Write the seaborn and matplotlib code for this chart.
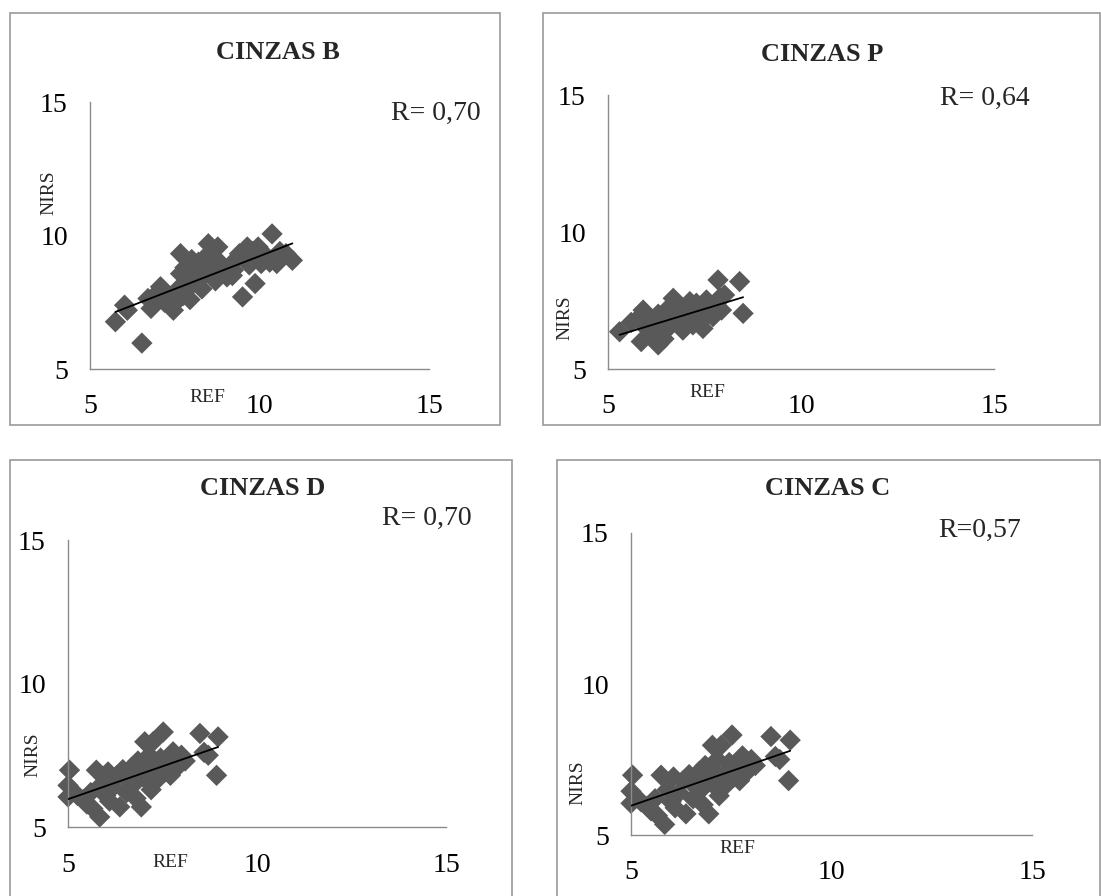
import matplotlib
matplotlib.use("Agg")
import matplotlib.pyplot as plt
from matplotlib.patches import Rectangle
import seaborn as sns

# ---- data: reference value (REF) vs. NIRS prediction for ash content ----
ref_b = [5.75, 6.02, 6.53, 6.80, 6.71, 7.08, 7.44, 7.31, 7.67, 7.67, 7.85, 8.04,
         8.22, 8.49, 8.77, 8.40, 8.59, 8.86, 9.04, 9.23, 9.41, 9.64, 9.50, 9.87,
         9.96, 10.05, 10.37, 10.23, 10.51, 10.78, 10.97,
         7.55, 7.75, 7.90, 8.10, 8.30, 8.20, 8.50, 8.60, 8.70, 8.90, 9.10, 9.30,
         9.50, 9.70, 9.80, 10.10, 10.30, 10.60, 7.95, 8.05, 7.80, 8.35, 9.20,
         6.10, 7.20, 7.60, 8.00, 7.46, 6.97]
nirs_b = [6.77, 7.39, 5.97, 7.27, 7.64, 8.08, 7.39, 7.70, 9.32, 8.57, 7.95, 8.95,
          8.33, 9.69, 9.57, 9.19, 8.57, 8.95, 8.45, 8.70, 9.32, 9.57, 7.70, 8.20,
          9.57, 8.95, 10.06, 9.19, 8.95, 9.32, 9.07,
          7.55, 7.75, 8.20, 8.60, 8.00, 9.00, 8.60, 9.10, 8.30, 8.70, 8.80, 9.10,
          9.20, 8.90, 9.40, 9.30, 9.00, 9.40, 7.60, 8.25, 8.80, 8.75, 8.50,
          7.20, 7.50, 8.00, 9.10, 7.20, 7.83]

ref_p = [5.30, 5.78, 5.91, 5.86, 6.30, 6.08, 6.69, 6.51, 7.12, 7.29, 7.46, 7.55,
         7.85, 8.02, 7.94, 8.41, 8.50, 7.72, 6.94, 7.20,
         5.60, 5.95, 6.00, 6.20, 6.30, 6.40, 6.55, 6.60, 6.75, 6.80, 6.90, 7.00,
         7.05, 7.15, 7.30, 7.35, 7.45, 7.60, 7.65, 7.80, 7.90, 6.45, 6.15, 7.00]
nirs_p = [6.36, 6.85, 7.15, 6.00, 5.88, 6.42, 7.58, 6.79, 7.46, 7.40, 6.48, 7.52,
          8.25, 7.70, 7.15, 8.19, 7.03, 6.91, 6.42, 6.61,
          6.70, 6.55, 6.95, 6.60, 7.00, 6.30, 7.20, 6.55, 6.90, 7.30, 6.70, 7.10,
          6.80, 7.20, 6.90, 7.10, 7.25, 7.00, 7.30, 7.40, 7.60, 6.10, 6.20, 6.55]

ref_d = [5.04, 5.00, 5.00, 5.25, 5.40, 5.50, 5.66, 5.84, 5.75, 6.06, 5.90, 6.00,
         6.20, 6.37, 6.30, 6.50, 6.55, 6.60, 6.70, 6.75, 6.85, 6.94, 6.90, 7.03,
         7.00, 7.10, 7.15, 7.25, 7.30, 7.40, 7.52, 7.45, 7.60, 7.71, 7.78, 7.90,
         8.00, 8.10, 8.49, 8.60, 8.71, 8.97, 8.93, 6.45, 6.10, 5.60, 6.80, 7.20, 7.55]
nirs_d = [6.98, 6.45, 6.05, 6.10, 5.95, 5.80, 5.64, 5.35, 6.98, 6.92, 6.50, 6.10,
          6.40, 5.70, 6.80, 6.90, 6.20, 6.60, 7.10, 6.50, 7.30, 5.70, 6.80, 7.97,
          7.20, 6.60, 7.50, 7.97, 7.00, 6.70, 8.31, 7.40, 7.20, 6.80, 7.62, 7.10,
          7.50, 7.30, 8.26, 7.60, 7.50, 8.14, 6.80, 7.00, 5.90, 6.20, 6.00, 6.30, 6.90]

# the C series carries the same sample values as D
ref_c = list(ref_d)
nirs_c = list(nirs_d)

titles = ["CINZAS B", "CINZAS P", "CINZAS D", "CINZAS C"]
r_labels = ["R= 0,70", "R= 0,64", "R= 0,70", "R=0,57"]
ticks = [5, 10, 15]

# ---- layout (pixel positions on a 1101 x 896 canvas) ----
W, H = 1101, 896
layout = [
    # axes box (left, right, top, bottom), title xy, R xy, NIRS xy, REF xy, frame, x pad
    dict(box=(90, 429, 102, 369), title=(278, 52), r=(436, 113), ylab=(49, 193),
         xlab=(207, 397), frame=(10, 13, 500, 425), xpad=12),
    dict(box=(608, 994, 95, 369), title=(822, 54), r=(985, 98), ylab=(565, 318),
         xlab=(707, 392), frame=(543, 13, 1100, 425), xpad=12),
    dict(box=(68, 446, 540, 827), title=(263, 488), r=(427, 518), ylab=(33, 755),
         xlab=(170, 862), frame=(10, 460, 512, 905), xpad=13),
    dict(box=(631, 1032, 533, 835), title=(828, 488), r=(980, 530), ylab=(578, 783),
         xlab=(737, 848), frame=(557, 460, 1100, 905), xpad=12),
]
data = [(ref_b, nirs_b), (ref_p, nirs_p), (ref_d, nirs_d), (ref_c, nirs_c)]

sns.set_style("white")
plt.rcParams["font.family"] = ["Liberation Serif", "DejaVu Serif"]

axis_gray = "#8a8a8a"
marker_gray = "#595959"

fig = plt.figure(figsize=(W / 100, H / 100), dpi=100)
fig.patch.set_facecolor("white")

for (xs, ys), title, rlab, lay in zip(data, titles, r_labels, layout):
    left, right, top, bottom = lay["box"]
    ax = fig.add_axes([left / W, 1 - bottom / H, (right - left) / W, (bottom - top) / H])

    sns.regplot(x=xs, y=ys, ax=ax, ci=None, marker="D",
                scatter_kws=dict(s=118, color=marker_gray, alpha=1,
                                 edgecolor="none", linewidths=0, clip_on=False, zorder=2),
                line_kws=dict(color="black", lw=1.3, zorder=3))

    ax.set_xlim(5, 15)
    ax.set_ylim(5, 15)
    ax.set_xticks(ticks)
    ax.set_yticks(ticks)
    ax.set_xticklabels([str(t) for t in ticks])
    ax.set_yticklabels([str(t) for t in ticks])

    for side in ("top", "right"):
        ax.spines[side].set_visible(False)
    for side in ("left", "bottom"):
        ax.spines[side].set_color(axis_gray)
        ax.spines[side].set_linewidth(1.0)
    ax.tick_params(axis="both", direction="out", length=6, width=1.0,
                   color=axis_gray, labelsize=20, labelcolor="black")
    ax.tick_params(axis="x", pad=lay["xpad"])
    ax.tick_params(axis="y", pad=10)

    def to_axes(px, py):
        return (px - left) / (right - left), (bottom - py) / (bottom - top)

    tx, ty = to_axes(*lay["title"])
    ax.set_title(title, x=tx, y=ty, pad=0, fontsize=19, fontweight="bold", va="center")

    rx, ry = to_axes(*lay["r"])
    ax.text(rx, ry, rlab, transform=ax.transAxes, ha="center", va="center", fontsize=20)

    ax.set_xlabel("REF", fontsize=14)
    ax.xaxis.set_label_coords(*to_axes(*lay["xlab"]))
    ax.xaxis.label.set_va("center")
    ax.set_ylabel("NIRS", fontsize=14)
    ax.yaxis.set_label_coords(*to_axes(*lay["ylab"]))
    ax.yaxis.label.set_va("center")

    fx0, fy0, fx1, fy1 = lay["frame"]
    fig.patches.append(Rectangle((fx0 / W, 1 - fy1 / H), (fx1 - fx0) / W, (fy1 - fy0) / H,
                                 transform=fig.transFigure, fill=False,
                                 edgecolor="#9a9a9a", linewidth=1.2))

fig.savefig("out.png", dpi=100)
